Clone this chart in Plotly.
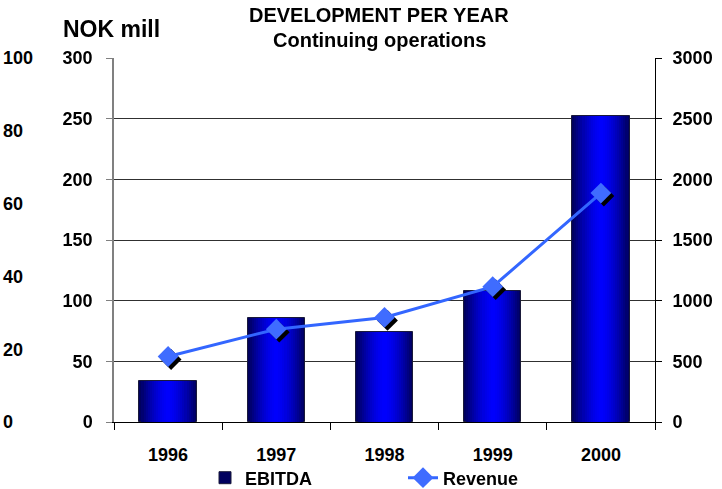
import plotly.graph_objects as go

years = ["1996", "1997", "1998", "1999", "2000"]
ebitda = [34, 86, 74, 108, 252]
revenue = [540, 765, 862, 1115, 1887]
outer_ticks = [0, 20, 40, 60, 80, 100]

W, H = 722, 489
ML, MR, MT, MB = 2, 64, 58, 64
PW = W - ML - MR
PH = H - MT - MB
SH = 3  # shadow offset px
x0 = (114 - ML) / PW
x1 = 1 - SH / PW
y0 = SH / PH

FONT = "Liberation Sans"

fig = go.Figure()

# gradient bars via layered overlay bars
N = 14
full_w = 0.53
for i in range(N):
    f = 1 - i / N
    b = int(255 - 160 * f ** 1.6)
    col = f"rgb(0,0,{b})"
    fig.add_trace(go.Bar(
        x=years, y=ebitda, width=full_w * f,
        marker=dict(color=col,
                    line=dict(color="#1a1a3a" if i == 0 else col, width=1 if i == 0 else 0)),
        name="EBITDA", showlegend=(i == 0), legendgroup="e",
        xaxis="x", yaxis="y", hoverinfo="skip" if i else None,
    ))

# invisible carriers so the secondary axes are drawn
fig.add_trace(go.Scatter(x=years, y=revenue, mode="markers", opacity=0,
                         showlegend=False, xaxis="x", yaxis="y2", hoverinfo="skip"))
fig.add_trace(go.Scatter(x=years[:1], y=outer_ticks[:1], mode="markers", opacity=0,
                         showlegend=False, xaxis="x", yaxis="y3", hoverinfo="skip"))

# marker shadow
fig.add_trace(go.Scatter(
    x=years, y=revenue, mode="markers",
    marker=dict(symbol="diamond", size=16, color="black"),
    showlegend=False, xaxis="x2", yaxis="y4", hoverinfo="skip",
))
# revenue line
fig.add_trace(go.Scatter(
    x=years, y=revenue, mode="lines+markers", name="Revenue",
    line=dict(color="#3366ff", width=3),
    marker=dict(symbol="diamond", size=16, color="#3f6cff"),
    xaxis="x3", yaxis="y5",
))

tf = dict(family=FONT, size=18, color="black", weight="bold")

fig.update_layout(
    width=W, height=H,
    margin=dict(l=ML, r=MR, t=MT, b=MB, autoexpand=False),
    paper_bgcolor="white", plot_bgcolor="rgba(0,0,0,0)",
    barmode="overlay", bargap=0,
    font=dict(family=FONT, color="black"),
    xaxis=dict(domain=[x0, x1], type="category", range=[-0.5, 4.5],
               tickson="boundaries", ticks="outside", ticklen=7, tickcolor="black",
               showline=True, linecolor="black", linewidth=1, showgrid=False,
               tickfont=dict(family=FONT, size=18, color="black", weight="bold"),
               ticklabelstandoff=16, anchor="y"),
    yaxis=dict(domain=[y0, 1], range=[0, 300], dtick=50, ticks="outside", ticklen=6,
               tickcolor="#808080", showline=True, linecolor="#808080", linewidth=1.5,
               showgrid=True, gridcolor="#303030", gridwidth=1, zeroline=False,
               tickfont=tf, ticklabelstandoff=10, anchor="x"),
    yaxis2=dict(overlaying="y", side="right", range=[0, 3000], dtick=500,
                ticks="outside", ticklen=6, tickcolor="black", showline=True,
                linecolor="black", linewidth=1, showgrid=False, zeroline=False,
                tickfont=tf, ticklabelstandoff=7, anchor="x"),
    yaxis3=dict(overlaying="y", side="right", anchor="free", position=0,
                range=[0, 100], tickvals=outer_ticks, ticks="", showline=False,
                showgrid=False, zeroline=False, tickfont=tf, ticklabelstandoff=0),
    xaxis2=dict(domain=[x0 + SH / PW, 1], type="category", range=[-0.5, 4.5],
                visible=False, anchor="y4"),
    yaxis4=dict(domain=[0, 1 - SH / PH], range=[0, 3000], visible=False, anchor="x2"),
    xaxis3=dict(domain=[x0, x1], type="category", range=[-0.5, 4.5],
                visible=False, anchor="y5"),
    yaxis5=dict(domain=[y0, 1], range=[0, 3000], visible=False, anchor="x3"),
    legend=dict(orientation="h", x=(205 - ML) / PW, xanchor="left",
                y=-(478 - (H - MB)) / PH, yanchor="middle",
                font=dict(family=FONT, size=18, color="black", weight="bold"),
                entrywidth=153, bgcolor="rgba(0,0,0,0)", tracegroupgap=0),
    showlegend=True,
)

fig.add_annotation(text="DEVELOPMENT PER YEAR", xref="paper", yref="paper",
                   x=(379 - ML) / PW, y=(H - MB - 15) / PH, xanchor="center", yanchor="middle",
                   showarrow=False, font=dict(family=FONT, size=20, color="black", weight="bold"))
fig.add_annotation(text="Continuing operations", xref="paper", yref="paper",
                   x=(379 - ML) / PW, y=(H - MB - 40) / PH, xanchor="center", yanchor="middle",
                   showarrow=False, font=dict(family=FONT, size=20, color="black", weight="bold"))
fig.add_annotation(text="NOK mill", xref="paper", yref="paper",
                   x=(61 - ML) / PW, y=(H - MB - 29) / PH, xanchor="left", yanchor="middle",
                   showarrow=False, font=dict(family=FONT, size=23, color="black", weight="bold"))

fig.write_html("out.html", config={"displayModeBar": False},
               post_script="document.body.style.margin='0';document.body.style.overflow='hidden';")
